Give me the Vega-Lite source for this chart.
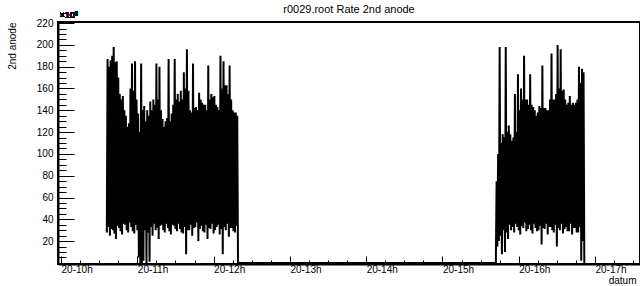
{
  "$schema": "https://vega.github.io/schema/vega-lite/v6.json",
  "width": 582,
  "height": 242,
  "autosize": {"type": "none"},
  "padding": {"left": 58, "top": 22, "right": 0, "bottom": 22},
  "background": "white",
  "view": {"stroke": "black", "strokeWidth": 2},
  "title": {"text": "r0029.root Rate 2nd anode", "font": "Liberation Sans", "fontSize": 11, "fontWeight": "normal", "color": "black", "anchor": "middle", "offset": 0, "dy": 4},
  "config": {"font": "Liberation Sans"},
  "resolve": {"axis": {"x": "independent", "y": "independent"}},
  "data": {"values": [
    {"t": 10.60, "v": 28000}, {"t": 10.61, "v": 187000}, {"t": 10.62, "v": 33000}, {"t": 10.63, "v": 180000},
    {"t": 10.64, "v": 25000}, {"t": 10.65, "v": 186000}, {"t": 10.66, "v": 31000}, {"t": 10.67, "v": 190000},
    {"t": 10.68, "v": 30000}, {"t": 10.69, "v": 198000}, {"t": 10.70, "v": 27000}, {"t": 10.71, "v": 184000},
    {"t": 10.72, "v": 22000}, {"t": 10.73, "v": 185000}, {"t": 10.74, "v": 34000}, {"t": 10.75, "v": 170000},
    {"t": 10.76, "v": 32000}, {"t": 10.77, "v": 155000}, {"t": 10.78, "v": 29000}, {"t": 10.79, "v": 150000},
    {"t": 10.80, "v": 26000}, {"t": 10.81, "v": 153000}, {"t": 10.82, "v": 36000}, {"t": 10.83, "v": 140000},
    {"t": 10.84, "v": 35000}, {"t": 10.85, "v": 135000}, {"t": 10.86, "v": 30000}, {"t": 10.87, "v": 125000},
    {"t": 10.88, "v": 28000}, {"t": 10.89, "v": 128000}, {"t": 10.90, "v": 37000}, {"t": 10.91, "v": 160000},
    {"t": 10.92, "v": 33000}, {"t": 10.93, "v": 183000}, {"t": 10.94, "v": 29000}, {"t": 10.95, "v": 158000},
    {"t": 10.96, "v": 27000}, {"t": 10.97, "v": 185000}, {"t": 10.98, "v": 35000}, {"t": 10.99, "v": 150000},
    {"t": 11.00, "v": 30000}, {"t": 11.01, "v": 137000}, {"t": 11.02, "v": 5000}, {"t": 11.03, "v": 120000},
    {"t": 11.04, "v": 0}, {"t": 11.05, "v": 183000}, {"t": 11.06, "v": 0}, {"t": 11.07, "v": 140000},
    {"t": 11.08, "v": 2000}, {"t": 11.09, "v": 144000}, {"t": 11.10, "v": 30000}, {"t": 11.11, "v": 130000},
    {"t": 11.12, "v": 0}, {"t": 11.13, "v": 140000}, {"t": 11.14, "v": 28000}, {"t": 11.15, "v": 135000},
    {"t": 11.16, "v": 1000}, {"t": 11.17, "v": 148000}, {"t": 11.18, "v": 33000}, {"t": 11.19, "v": 140000},
    {"t": 11.20, "v": 25000}, {"t": 11.21, "v": 150000}, {"t": 11.22, "v": 36000}, {"t": 11.23, "v": 145000},
    {"t": 11.24, "v": 30000}, {"t": 11.25, "v": 183000}, {"t": 11.26, "v": 32000}, {"t": 11.27, "v": 150000},
    {"t": 11.28, "v": 22000}, {"t": 11.29, "v": 180000}, {"t": 11.30, "v": 34000}, {"t": 11.31, "v": 140000},
    {"t": 11.32, "v": 35000}, {"t": 11.33, "v": 132000}, {"t": 11.34, "v": 30000}, {"t": 11.35, "v": 125000},
    {"t": 11.36, "v": 28000}, {"t": 11.37, "v": 130000}, {"t": 11.38, "v": 36000}, {"t": 11.39, "v": 133000},
    {"t": 11.40, "v": 32000}, {"t": 11.41, "v": 187000}, {"t": 11.42, "v": 29000}, {"t": 11.43, "v": 130000},
    {"t": 11.44, "v": 26000}, {"t": 11.45, "v": 137000}, {"t": 11.46, "v": 35000}, {"t": 11.47, "v": 145000},
    {"t": 11.48, "v": 34000}, {"t": 11.49, "v": 187000}, {"t": 11.50, "v": 31000}, {"t": 11.51, "v": 150000},
    {"t": 11.52, "v": 29000}, {"t": 11.53, "v": 155000}, {"t": 11.54, "v": 36000}, {"t": 11.55, "v": 148000},
    {"t": 11.56, "v": 31000}, {"t": 11.57, "v": 158000}, {"t": 11.58, "v": 28000}, {"t": 11.59, "v": 150000},
    {"t": 11.60, "v": 27000}, {"t": 11.61, "v": 175000}, {"t": 11.62, "v": 33000}, {"t": 11.63, "v": 160000},
    {"t": 11.64, "v": 8000}, {"t": 11.65, "v": 196000}, {"t": 11.66, "v": 30000}, {"t": 11.67, "v": 158000},
    {"t": 11.68, "v": 30000}, {"t": 11.69, "v": 140000}, {"t": 11.70, "v": 35000}, {"t": 11.71, "v": 138000},
    {"t": 11.72, "v": 25000}, {"t": 11.73, "v": 183000}, {"t": 11.74, "v": 32000}, {"t": 11.75, "v": 142000},
    {"t": 11.76, "v": 33000}, {"t": 11.77, "v": 143000}, {"t": 11.78, "v": 37000}, {"t": 11.79, "v": 140000},
    {"t": 11.80, "v": 20000}, {"t": 11.81, "v": 156000}, {"t": 11.82, "v": 31000}, {"t": 11.83, "v": 150000},
    {"t": 11.84, "v": 34000}, {"t": 11.85, "v": 147000}, {"t": 11.86, "v": 29000}, {"t": 11.87, "v": 145000},
    {"t": 11.88, "v": 28000}, {"t": 11.89, "v": 145000}, {"t": 11.90, "v": 35000}, {"t": 11.91, "v": 140000},
    {"t": 11.92, "v": 22000}, {"t": 11.93, "v": 181000}, {"t": 11.94, "v": 32000}, {"t": 11.95, "v": 150000},
    {"t": 11.96, "v": 31000}, {"t": 11.97, "v": 155000}, {"t": 11.98, "v": 36000}, {"t": 11.99, "v": 152000},
    {"t": 12.00, "v": 27000}, {"t": 12.01, "v": 153000}, {"t": 12.02, "v": 30000}, {"t": 12.03, "v": 145000},
    {"t": 12.04, "v": 33000}, {"t": 12.05, "v": 143000}, {"t": 12.06, "v": 35000}, {"t": 12.07, "v": 140000},
    {"t": 12.08, "v": 26000}, {"t": 12.09, "v": 190000}, {"t": 12.10, "v": 31000}, {"t": 12.11, "v": 160000},
    {"t": 12.12, "v": 8000}, {"t": 12.13, "v": 185000}, {"t": 12.14, "v": 33000}, {"t": 12.15, "v": 163000},
    {"t": 12.16, "v": 30000}, {"t": 12.17, "v": 163000}, {"t": 12.18, "v": 36000}, {"t": 12.19, "v": 155000},
    {"t": 12.20, "v": 24000}, {"t": 12.21, "v": 181000}, {"t": 12.22, "v": 32000}, {"t": 12.23, "v": 150000},
    {"t": 12.24, "v": 32000}, {"t": 12.25, "v": 140000}, {"t": 12.26, "v": 29000}, {"t": 12.27, "v": 138000},
    {"t": 12.28, "v": 28000}, {"t": 12.29, "v": 138000}, {"t": 12.30, "v": 34000}, {"t": 12.31, "v": 135000},
    {"t": 12.32, "v": 0},
    {"t": 15.68, "v": 0},
    {"t": 15.70, "v": 0}, {"t": 15.71, "v": 75000}, {"t": 15.72, "v": 15000}, {"t": 15.73, "v": 100000},
    {"t": 15.74, "v": 20000}, {"t": 15.75, "v": 198000}, {"t": 15.76, "v": 25000}, {"t": 15.77, "v": 110000},
    {"t": 15.78, "v": 8000}, {"t": 15.79, "v": 118000}, {"t": 15.80, "v": 30000}, {"t": 15.81, "v": 115000},
    {"t": 15.82, "v": 10000}, {"t": 15.83, "v": 198000}, {"t": 15.84, "v": 28000}, {"t": 15.85, "v": 120000},
    {"t": 15.86, "v": 22000}, {"t": 15.87, "v": 126000}, {"t": 15.88, "v": 35000}, {"t": 15.89, "v": 118000},
    {"t": 15.90, "v": 30000}, {"t": 15.91, "v": 112000}, {"t": 15.92, "v": 33000}, {"t": 15.93, "v": 115000},
    {"t": 15.94, "v": 28000}, {"t": 15.95, "v": 155000}, {"t": 15.96, "v": 36000}, {"t": 15.97, "v": 120000},
    {"t": 15.98, "v": 33000}, {"t": 15.99, "v": 173000}, {"t": 16.00, "v": 30000}, {"t": 16.01, "v": 140000},
    {"t": 16.02, "v": 26000}, {"t": 16.03, "v": 160000}, {"t": 16.04, "v": 34000}, {"t": 16.05, "v": 150000},
    {"t": 16.06, "v": 32000}, {"t": 16.07, "v": 190000}, {"t": 16.08, "v": 37000}, {"t": 16.09, "v": 150000},
    {"t": 16.10, "v": 29000}, {"t": 16.11, "v": 150000}, {"t": 16.12, "v": 31000}, {"t": 16.13, "v": 145000},
    {"t": 16.14, "v": 35000}, {"t": 16.15, "v": 173000}, {"t": 16.16, "v": 30000}, {"t": 16.17, "v": 145000},
    {"t": 16.18, "v": 27000}, {"t": 16.19, "v": 143000}, {"t": 16.20, "v": 36000}, {"t": 16.21, "v": 140000},
    {"t": 16.22, "v": 32000}, {"t": 16.23, "v": 135000}, {"t": 16.24, "v": 29000}, {"t": 16.25, "v": 138000},
    {"t": 16.26, "v": 30000}, {"t": 16.27, "v": 144000}, {"t": 16.28, "v": 34000}, {"t": 16.29, "v": 142000},
    {"t": 16.30, "v": 17000}, {"t": 16.31, "v": 181000}, {"t": 16.32, "v": 32000}, {"t": 16.33, "v": 142000},
    {"t": 16.34, "v": 31000}, {"t": 16.35, "v": 142000}, {"t": 16.36, "v": 36000}, {"t": 16.37, "v": 140000},
    {"t": 16.38, "v": 26000}, {"t": 16.39, "v": 140000}, {"t": 16.40, "v": 33000}, {"t": 16.41, "v": 150000},
    {"t": 16.42, "v": 33000}, {"t": 16.43, "v": 192000}, {"t": 16.44, "v": 30000}, {"t": 16.45, "v": 150000},
    {"t": 16.46, "v": 28000}, {"t": 16.47, "v": 150000}, {"t": 16.48, "v": 35000}, {"t": 16.49, "v": 155000},
    {"t": 16.50, "v": 15000}, {"t": 16.51, "v": 200000}, {"t": 16.52, "v": 32000}, {"t": 16.53, "v": 160000},
    {"t": 16.54, "v": 30000}, {"t": 16.55, "v": 196000}, {"t": 16.56, "v": 36000}, {"t": 16.57, "v": 158000},
    {"t": 16.58, "v": 27000}, {"t": 16.59, "v": 159000}, {"t": 16.60, "v": 31000}, {"t": 16.61, "v": 150000},
    {"t": 16.62, "v": 33000}, {"t": 16.63, "v": 145000}, {"t": 16.64, "v": 29000}, {"t": 16.65, "v": 147000},
    {"t": 16.66, "v": 29000}, {"t": 16.67, "v": 153000}, {"t": 16.68, "v": 36000}, {"t": 16.69, "v": 145000},
    {"t": 16.70, "v": 26000}, {"t": 16.71, "v": 147000}, {"t": 16.72, "v": 32000}, {"t": 16.73, "v": 145000},
    {"t": 16.74, "v": 32000}, {"t": 16.75, "v": 147000}, {"t": 16.76, "v": 28000}, {"t": 16.77, "v": 150000},
    {"t": 16.78, "v": 28000}, {"t": 16.79, "v": 180000}, {"t": 16.80, "v": 33000}, {"t": 16.81, "v": 165000},
    {"t": 16.82, "v": 2000}, {"t": 16.83, "v": 178000}, {"t": 16.84, "v": 20000}, {"t": 16.85, "v": 175000},
    {"t": 16.86, "v": 0}
  ]},
  "layer": [
    {
      "mark": {"type": "line", "color": "black", "strokeWidth": 2, "clip": true},
      "encoding": {
        "x": {"field": "t", "type": "quantitative",
          "scale": {"domain": [9.96, 17.59], "nice": false, "zero": false},
          "axis": {
            "orient": "bottom",
            "values": [10.25, 10.5, 10.75, 11.25, 11.5, 11.75, 12.25, 12.5, 12.75, 13.25, 13.5, 13.75, 14.25, 14.5, 14.75, 15.25, 15.5, 15.75, 16.25, 16.5, 16.75, 17.25, 17.5],
            "labels": false, "domain": false, "grid": false,
            "tickSize": -4, "tickColor": "black", "tickWidth": 1,
            "title": null
          }
        },
        "y": {"field": "v", "type": "quantitative",
          "scale": {"domain": [-1000, 221000], "nice": false, "zero": false},
          "axis": {
            "orient": "left",
            "values": [5000, 10000, 15000, 25000, 30000, 35000, 45000, 50000, 55000, 65000, 70000, 75000, 85000, 90000, 95000, 105000, 110000, 115000, 125000, 130000, 135000, 145000, 150000, 155000, 165000, 170000, 175000, 185000, 190000, 195000, 205000, 210000, 215000],
            "labels": false, "domain": false, "grid": false,
            "tickSize": -8, "tickColor": "black", "tickWidth": 1,
            "title": null
          }
        }
      }
    },
    {
      "mark": {"type": "text", "text": "×10³", "align": "left", "baseline": "middle", "fontSize": 9, "font": "Liberation Sans", "color": "black", "clip": false},
      "encoding": {
        "x": {"datum": 9.98, "type": "quantitative",
          "axis": {
            "orient": "bottom",
            "values": [10, 11, 12, 13, 14, 15, 16, 17],
            "labelExpr": "'20-' + datum.value + 'h'",
            "labelAlign": "left", "labelFontSize": 10, "labelColor": "black", "labelFont": "Liberation Sans",
            "labelPadding": 8, "labelOverlap": false, "labelFlush": false,
            "tickSize": -8, "tickColor": "black", "tickWidth": 1,
            "domainColor": "black", "domainWidth": 2, "grid": false,
            "title": "datum", "titleFont": "Liberation Sans", "titleFontSize": 10, "titleFontWeight": "normal", "titleColor": "black",
            "titleAnchor": "end", "titleAlign": "right", "titleBaseline": "middle", "titleX": 578, "titleY": 16.5
          }
        },
        "y": {"datum": 227500, "type": "quantitative",
          "axis": {
            "orient": "left",
            "values": [20000, 40000, 60000, 80000, 100000, 120000, 140000, 160000, 180000, 200000, 220000],
            "labelExpr": "'' + datum.value / 1000",
            "labelFontSize": 10, "labelColor": "black", "labelFont": "Liberation Sans",
            "labelPadding": 21, "labelOverlap": false, "labelFlush": false,
            "tickSize": -16, "tickColor": "black", "tickWidth": 1,
            "domainColor": "black", "domainWidth": 2, "grid": false,
            "title": "2nd anode", "titleFont": "Liberation Sans", "titleFontSize": 10, "titleFontWeight": "normal", "titleColor": "black",
            "titleAnchor": "end", "titleAlign": "right", "titleAngle": -90, "titleX": -46, "titleY": 0, "titleBaseline": "middle"
          }
        }
      }
    }
  ]
}
